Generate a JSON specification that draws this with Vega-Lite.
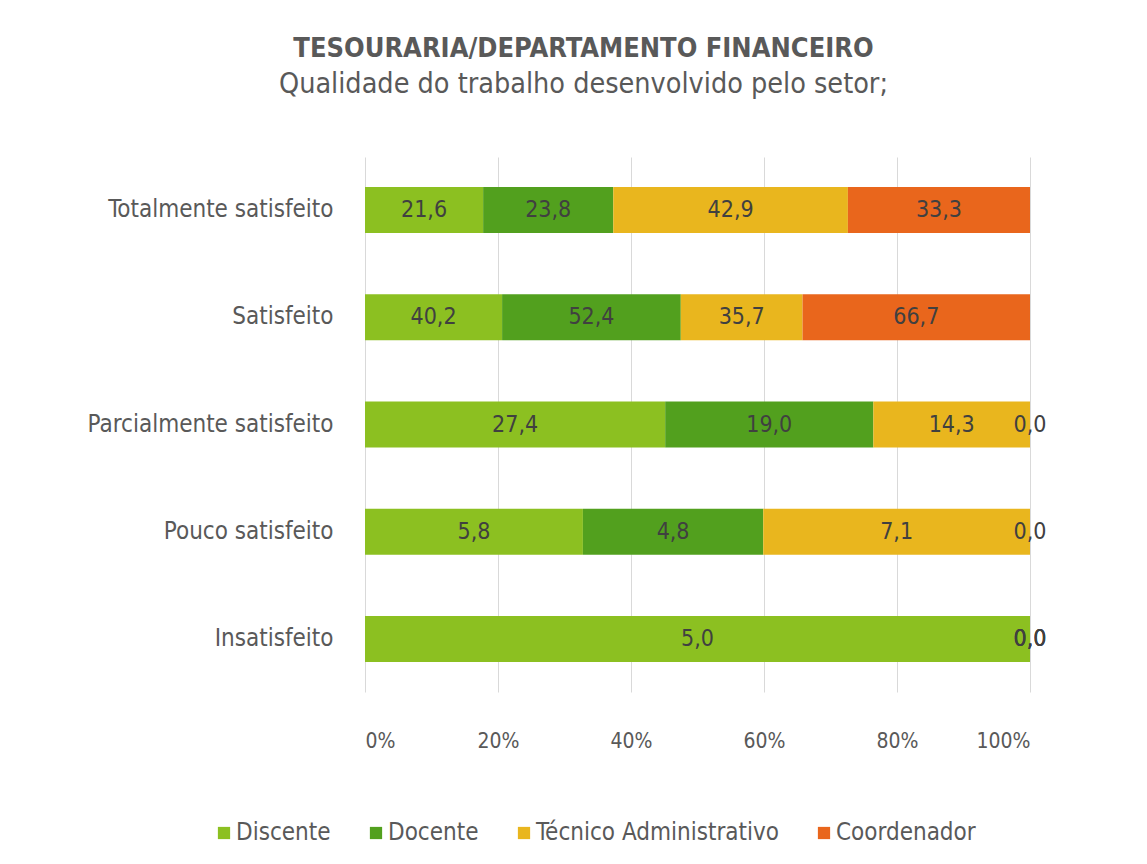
{
  "$schema": "https://vega.github.io/schema/vega-lite/v6.json",
  "width": 665,
  "height": 535,
  "autosize": "none",
  "padding": {"left": 365, "top": 157, "right": 117, "bottom": 172},
  "background": "white",
  "title": {
    "text": "TESOURARIA/DEPARTAMENTO FINANCEIRO",
    "subtitle": "Qualidade do trabalho desenvolvido pelo setor;",
    "anchor": "middle",
    "frame": "group",
    "dx": -114,
    "offset": 58,
    "fontSize": 27,
    "fontWeight": "bold",
    "color": "#595959",
    "subtitleFontSize": 28.5,
    "subtitleColor": "#595959",
    "subtitlePadding": 7
  },
  "data": {
    "values": [
      {"nivel": "Totalmente satisfeito", "grupo": "Discente", "n": 1, "valor": 21.6},
      {"nivel": "Totalmente satisfeito", "grupo": "Docente", "n": 2, "valor": 23.8},
      {"nivel": "Totalmente satisfeito", "grupo": "Técnico Administrativo", "n": 3, "valor": 42.9},
      {"nivel": "Totalmente satisfeito", "grupo": "Coordenador", "n": 4, "valor": 33.3},
      {"nivel": "Satisfeito", "grupo": "Discente", "n": 1, "valor": 40.2},
      {"nivel": "Satisfeito", "grupo": "Docente", "n": 2, "valor": 52.4},
      {"nivel": "Satisfeito", "grupo": "Técnico Administrativo", "n": 3, "valor": 35.7},
      {"nivel": "Satisfeito", "grupo": "Coordenador", "n": 4, "valor": 66.7},
      {"nivel": "Parcialmente satisfeito", "grupo": "Discente", "n": 1, "valor": 27.4},
      {"nivel": "Parcialmente satisfeito", "grupo": "Docente", "n": 2, "valor": 19.0},
      {"nivel": "Parcialmente satisfeito", "grupo": "Técnico Administrativo", "n": 3, "valor": 14.3},
      {"nivel": "Parcialmente satisfeito", "grupo": "Coordenador", "n": 4, "valor": 0.0},
      {"nivel": "Pouco satisfeito", "grupo": "Discente", "n": 1, "valor": 5.8},
      {"nivel": "Pouco satisfeito", "grupo": "Docente", "n": 2, "valor": 4.8},
      {"nivel": "Pouco satisfeito", "grupo": "Técnico Administrativo", "n": 3, "valor": 7.1},
      {"nivel": "Pouco satisfeito", "grupo": "Coordenador", "n": 4, "valor": 0.0},
      {"nivel": "Insatisfeito", "grupo": "Discente", "n": 1, "valor": 5.0},
      {"nivel": "Insatisfeito", "grupo": "Docente", "n": 2, "valor": 0.0},
      {"nivel": "Insatisfeito", "grupo": "Técnico Administrativo", "n": 3, "valor": 0.0},
      {"nivel": "Insatisfeito", "grupo": "Coordenador", "n": 4, "valor": 0.0}
    ]
  },
  "encoding": {
    "y": {
      "field": "nivel",
      "type": "nominal",
      "sort": null,
      "title": null,
      "scale": {"paddingInner": 0.57, "paddingOuter": 0.28},
      "axis": {
        "domain": false,
        "ticks": false,
        "labelPadding": 32,
        "labelFontSize": 24,
        "labelLimit": 0,
        "labelColor": "#595959"
      }
    }
  },
  "layer": [
    {
      "mark": {"type": "bar"},
      "encoding": {
        "x": {
          "field": "valor",
          "type": "quantitative",
          "stack": "normalize",
          "title": null,
          "scale": {"domain": [0, 1]},
          "axis": {
            "values": [0, 0.2, 0.4, 0.6, 0.8, 1],
            "format": ".0%",
            "domain": false,
            "ticks": false,
            "grid": true,
            "gridColor": "#d9d9d9",
            "labelPadding": 38,
            "labelFontSize": 21,
            "labelColor": "#595959"
          }
        },
        "color": {
          "field": "grupo",
          "type": "nominal",
          "scale": {
            "domain": ["Discente", "Docente", "Técnico Administrativo", "Coordenador"],
            "range": ["#8CC021", "#52A01E", "#E9B61E", "#E9661C"]
          },
          "legend": {
            "title": null,
            "orient": "none",
            "direction": "horizontal",
            "legendX": -153,
            "legendY": 664,
            "symbolType": "square",
            "symbolSize": 150,
            "symbolStrokeWidth": 0,
            "symbolOpacity": 1,
            "labelFontSize": 24,
            "labelLimit": 0,
            "labelColor": "#595959",
            "labelOffset": 0,
            "columnPadding": 33
          }
        },
        "order": {"field": "n", "type": "quantitative"}
      }
    },
    {
      "mark": {"type": "text", "fontSize": 23, "color": "#404040"},
      "encoding": {
        "x": {
          "field": "valor",
          "type": "quantitative",
          "stack": "normalize",
          "bandPosition": 0.5
        },
        "detail": {"field": "grupo", "type": "nominal"},
        "order": {"field": "n", "type": "quantitative"},
        "text": {"field": "valor", "type": "quantitative", "format": ".1f"}
      }
    }
  ],
  "config": {
    "font": "DejaVu Sans Condensed",
    "view": {"stroke": null},
    "locale": {
      "number": {"decimal": ",", "thousands": ".", "grouping": [3], "currency": ["R$", ""]}
    }
  }
}
